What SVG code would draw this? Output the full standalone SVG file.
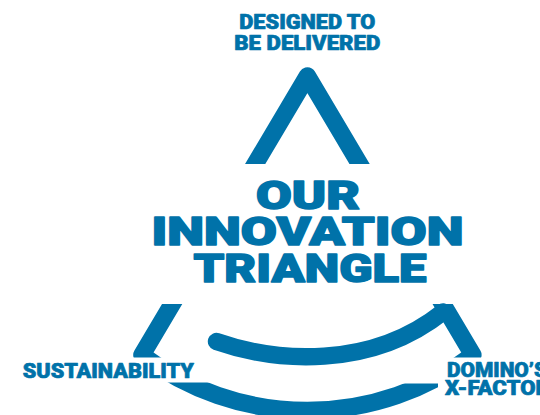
<svg xmlns="http://www.w3.org/2000/svg" width="540" height="415" viewBox="0 0 540 415">
  <defs>
    <style>
      .ink { fill: none; stroke: #0072a9; stroke-width: 17.4; stroke-linejoin: round; }
      .lbl { font-family: Roboto, "Open Sans", "Liberation Sans", sans-serif; font-weight: 900; fill: #0072a9; stroke: #0072a9; stroke-linejoin: round; text-anchor: middle; }
      .side { font-size: 21px; stroke-width: 0.7; }
      .foot { font-size: 20.5px; stroke-width: 0.7; }
      .title { font-size: 39.5px; stroke-width: 1.5; }
      .start { text-anchor: start; }
    </style>
    <!-- gaps cut out of the triangle outline where the labels sit -->
    <mask id="gaps" maskUnits="userSpaceOnUse" x="0" y="0" width="540" height="415">
      <rect x="0" y="0" width="540" height="415" fill="#fff"/>
      <rect x="0" y="164" width="540" height="140" fill="#000"/>
      <rect x="0" y="357.5" width="216" height="25" fill="#000"/>
      <rect x="398" y="357.5" width="142" height="26" fill="#000"/>
      <rect x="438" y="383" width="102" height="17" fill="#000"/>
    </mask>
  </defs>

  <rect width="540" height="415" fill="#fff"/>

  <g id="connectors">
    <!-- triangle with a curved base -->
    <path id="triangle" class="ink" mask="url(#gaps)"
          d="M141.9,355 L307.4,76 L472.9,355 A274.6,274.6 0 0 1 141.9,355 Z"/>
    <!-- inner swoosh running into the right side -->
    <path id="swoosh" class="ink" stroke-linecap="round"
          d="M216.5,341.5 C275,362 370,370 443,312"/>
  </g>

  <g id="node-top">
    <text class="lbl side" x="307.3" y="29" textLength="136" lengthAdjust="spacingAndGlyphs">DESIGNED TO</text>
    <text class="lbl side" x="307.3" y="50" textLength="146" lengthAdjust="spacingAndGlyphs">BE DELIVERED</text>
  </g>

  <g id="node-title">
    <text class="lbl title" x="308" y="209.3" textLength="104" lengthAdjust="spacingAndGlyphs">OUR</text>
    <text class="lbl title" x="307.5" y="245" textLength="312" lengthAdjust="spacingAndGlyphs">INNOVATION</text>
    <text class="lbl title" x="310" y="281.7" textLength="233" lengthAdjust="spacingAndGlyphs">TRIANGLE</text>
  </g>

  <g id="node-left">
    <text class="lbl foot" x="108.3" y="377.5" textLength="171" lengthAdjust="spacingAndGlyphs">SUSTAINABILITY</text>
  </g>

  <g id="node-right">
    <text class="lbl foot start" x="447" y="377.3" textLength="100" lengthAdjust="spacingAndGlyphs">DOMINO’S</text>
    <text class="lbl foot start" x="445" y="395" textLength="105" lengthAdjust="spacingAndGlyphs">X-FACTOR</text>
  </g>
</svg>
